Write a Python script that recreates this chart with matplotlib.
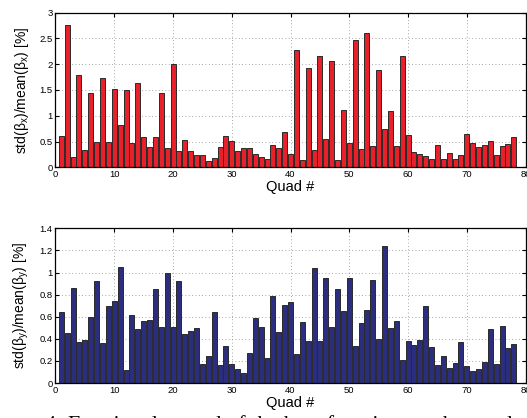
"""Beta-function spread per quadrupole, horizontal (top) and vertical (bottom)."""
import matplotlib
matplotlib.use("Agg")
import matplotlib.pyplot as plt
import numpy as np

plt.rcParams["font.family"] = ["Liberation Sans", "DejaVu Sans"]
plt.rcParams["mathtext.fontset"] = "custom"
plt.rcParams["mathtext.rm"] = "Liberation Sans"

quads = np.arange(1, 79)

# std(beta_x)/mean(beta_x) [%]
beta_x = [
    0.61, 2.76, 0.20, 1.79, 0.33, 1.45, 0.49, 1.74, 0.49, 1.51,
    0.82, 1.50, 0.47, 1.64, 0.58, 0.40, 0.59, 1.44, 0.38, 2.00,
    0.32, 0.53, 0.31, 0.23, 0.23, 0.13, 0.18, 0.40, 0.60, 0.51,
    0.32, 0.37, 0.38, 0.25, 0.20, 0.17, 0.43, 0.37, 0.68, 0.26,
    2.28, 0.15, 1.93, 0.33, 2.15, 0.55, 2.07, 0.14, 1.11, 0.47,
    2.46, 0.35, 2.60, 0.42, 1.89, 0.74, 1.10, 0.41, 2.15, 0.63,
    0.29, 0.25, 0.21, 0.16, 0.43, 0.17, 0.28, 0.17, 0.23, 0.64,
    0.47, 0.39, 0.43, 0.51, 0.24, 0.41, 0.45, 0.59,
]

# std(beta_y)/mean(beta_y) [%]
beta_y = [
    0.64, 0.45, 0.86, 0.37, 0.39, 0.60, 0.92, 0.365, 0.70, 0.74,
    1.05, 0.115, 0.62, 0.49, 0.565, 0.57, 0.85, 0.51, 1.00, 0.51,
    0.92, 0.44, 0.47, 0.495, 0.175, 0.245, 0.645, 0.16, 0.335, 0.17,
    0.13, 0.09, 0.275, 0.585, 0.51, 0.225, 0.785, 0.465, 0.71, 0.73,
    0.265, 0.55, 0.38, 1.04, 0.38, 0.955, 0.51, 0.85, 0.65, 0.95,
    0.335, 0.54, 0.66, 0.93, 0.40, 1.24, 0.495, 0.56, 0.205, 0.38,
    0.34, 0.39, 0.70, 0.33, 0.16, 0.245, 0.14, 0.18, 0.37, 0.155,
    0.11, 0.13, 0.19, 0.485, 0.17, 0.52, 0.32, 0.35,
]

x_ticks = np.arange(0, 81, 10)
top_yticks = np.arange(0, 3.01, 0.5)
bot_yticks = np.arange(0, 1.41, 0.2)


def style_axes(ax, yticks, ylabel):
    ax.set_xlim(0, 80)
    ax.set_ylim(yticks[0], yticks[-1])
    ax.set_xticks(x_ticks)
    ax.set_yticks(yticks)
    ax.set_yticklabels([f"{t:g}" for t in yticks])
    ax.tick_params(direction="in", length=3, width=0.8, labelsize=6.8,
                   top=True, right=True, pad=2)
    ax.grid(True, linestyle=(0, (1, 3)), color="#8a8a8a", lw=0.6)
    ax.set_axisbelow(True)
    for s in ax.spines.values():
        s.set_linewidth(0.9)
    ax.set_xlabel("Quad #", fontsize=10.5, labelpad=1)
    ax.set_ylabel(ylabel, fontsize=10, labelpad=6)


fig = plt.figure(figsize=(5.27, 4.18), dpi=100)
ax1 = fig.add_axes([0.1053, 0.5998, 0.892, 0.370])
ax2 = fig.add_axes([0.1053, 0.0837, 0.892, 0.370])

ax1.bar(quads, beta_x, width=0.85, color="#E8202A", edgecolor="#2a2a2a", linewidth=0.7)
style_axes(ax1, top_yticks, r"std(β$_\mathrm{x}$)/mean(β$_\mathrm{x}$) [%]")

ax2.bar(quads, beta_y, width=0.85, color="#2B2E7E", edgecolor="#2a2a2a", linewidth=0.7)
style_axes(ax2, bot_yticks, r"std(β$_\mathrm{y}$)/mean(β$_\mathrm{y}$) [%]")

# caption of the source page, cut off by the crop
fig.text(45 / 527, -0.029, "4: Fractional spread of the beta functions at the quadrupoles",
         family=["Liberation Serif", "DejaVu Serif"], fontsize=16, va="baseline")

fig.savefig("out.png", dpi=100)
